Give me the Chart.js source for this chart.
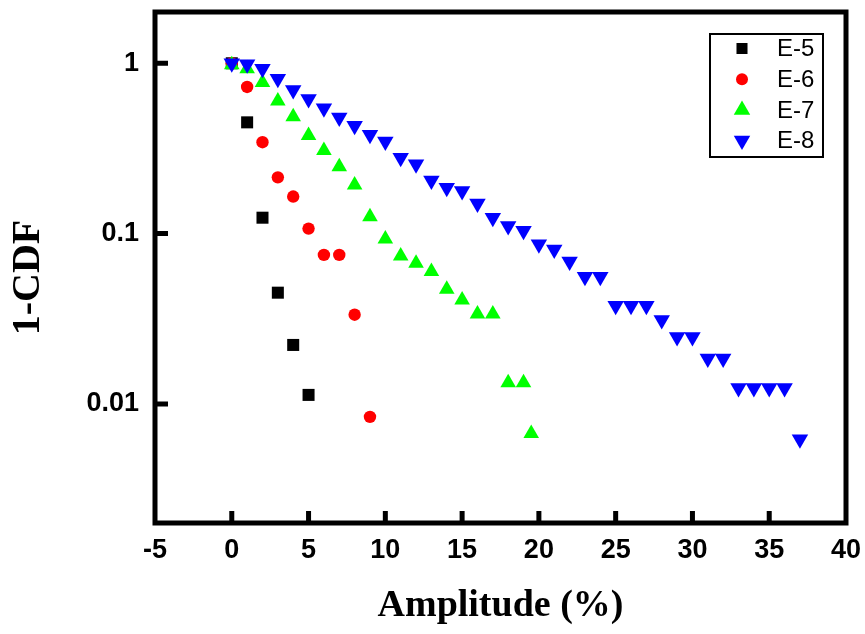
<!DOCTYPE html>
<html>
<head>
<meta charset="utf-8">
<script src="https://cdn.jsdelivr.net/npm/chart.js@4.4.1/dist/chart.umd.min.js"></script>
<style>
  html, body { margin: 0; padding: 0; background: #fff; }
  #wrap { width: 865px; height: 634px; position: relative; }
</style>
</head>
<body>
<div id="wrap"><canvas id="plotCanvas"></canvas></div>
<script>
// E-5
const x5 = [0, 1, 2, 3, 4, 5];
const y5 = [1, 0.45, 0.124, 0.045, 0.0222, 0.0113];
// E-6
const x6 = [0, 1, 2, 3, 4, 5, 6, 7, 8, 9];
const y6 = [1, 0.726, 0.344, 0.214, 0.165, 0.107, 0.075, 0.075, 0.0334, 0.0084];
// E-7
const x7 = [0, 1, 2, 3, 4, 5, 6, 7, 8, 9, 10, 11, 12, 13, 14, 15, 16, 17, 18, 19, 19.5];
const y7 = [0.98, 0.93, 0.77, 0.6, 0.485, 0.377, 0.308, 0.247, 0.193, 0.1255, 0.093,
  0.074, 0.067, 0.06, 0.0472, 0.0408, 0.0337, 0.0337, 0.0133, 0.0133, 0.0067];
// E-8
const x8 = [0, 1, 2, 3, 4, 5, 6, 7, 8, 9, 10, 11, 12, 13, 14, 15, 16, 17, 18, 19,
  20, 21, 22, 23, 24, 25, 26, 27, 28, 29, 30, 31, 32, 33, 34, 35, 36, 37];
const y8 = [1.0, 0.988, 0.93, 0.81, 0.697, 0.617, 0.545, 0.481, 0.43, 0.38, 0.347,
  0.279, 0.255, 0.205, 0.186, 0.178, 0.15, 0.124, 0.111, 0.104, 0.0866, 0.0806,
  0.0685, 0.0559, 0.0559, 0.0377, 0.0377, 0.0377, 0.0311, 0.0247, 0.0247, 0.0185,
  0.0185, 0.0124, 0.0124, 0.0124, 0.0124, 0.0062];

const seriesNames = ["E-5", "E-6", "E-7", "E-8"];
const yTicks = [0.01, 0.1, 1];

const sans = "'Liberation Sans', Arial, sans-serif";
const serif = "'Liberation Serif', 'Times New Roman', serif";

function pts(xs, ys) {
  return xs.map((x, i) => ({ x: x, y: ys[i] }));
}

const datasets = [
  { label: seriesNames[0], data: pts(x5, y5), backgroundColor: "#000000",
    pointStyle: "rect", pointRadius: 8.5, order: 4 },
  { label: seriesNames[1], data: pts(x6, y6), backgroundColor: "#ff0000",
    pointStyle: "circle", pointRadius: 6.2, order: 3 },
  { label: seriesNames[2], data: pts(x7, y7), backgroundColor: "#00ff00",
    pointStyle: "triangle", pointRadius: 9, order: 2 },
  { label: seriesNames[3], data: pts(x8, y8), backgroundColor: "#0000ff",
    pointStyle: "triangle", pointRotation: 180, pointRadius: 9.5, order: 1 },
];
datasets.forEach(d => { d.pointBorderWidth = 0; d.borderWidth = 0; d.showLine = false; });

// frame, inward ticks and legend box
const framePlugin = {
  id: "frame",
  afterDraw(chart) {
    const ctx = chart.ctx;
    const a = chart.chartArea;
    const xs = chart.scales.x, ys = chart.scales.y;
    ctx.save();
    ctx.strokeStyle = "#000";
    ctx.lineWidth = 5;
    ctx.lineCap = "butt";
    ctx.beginPath();
    xs.ticks.forEach(t => {
      if (t.value <= xs.min || t.value >= xs.max) return;
      const px = xs.getPixelForValue(t.value);
      ctx.moveTo(px, a.bottom);
      ctx.lineTo(px, a.bottom - 12);
    });
    ys.ticks.forEach(t => {
      const py = ys.getPixelForValue(t.value);
      ctx.moveTo(a.left, py);
      ctx.lineTo(a.left + 13, py);
    });
    ctx.stroke();
    ctx.strokeRect(a.left, a.top, a.right - a.left, a.bottom - a.top);

    // legend
    const lx = 710, ly = 34, lw = 113, lh = 123;
    ctx.fillStyle = "#fff";
    ctx.fillRect(lx, ly, lw, lh);
    ctx.lineWidth = 2;
    ctx.strokeRect(lx, ly, lw, lh);
    const sizes = [7.8, 6, 9.5, 9.5];
    chart.data.datasets.forEach((d, i) => {
      const cy = 48.5 + i * 30.7;
      ctx.fillStyle = d.backgroundColor;
      Chart.helpers.drawPoint(ctx, {
        pointStyle: d.pointStyle, radius: sizes[i],
        rotation: d.pointRotation || 0, borderWidth: 0
      }, 742, cy);
      ctx.fillStyle = "#000";
      ctx.font = "24px " + sans;
      ctx.textBaseline = "middle";
      ctx.textAlign = "left";
      ctx.fillText(d.label, 777, cy + 1);
    });
    ctx.restore();
  }
};

function noPad(s) {
  s.paddingTop = 0; s.paddingBottom = 0; s.paddingLeft = 0; s.paddingRight = 0;
}

const ctx = document.getElementById("plotCanvas").getContext("2d");
const chart = new Chart(ctx, {
  type: "scatter",
  data: { datasets: datasets },
  options: {
    responsive: true,
    maintainAspectRatio: false,
    animation: false,
    layout: { padding: { top: 12, right: 19, left: 0, bottom: 0 } },
    plugins: { legend: { display: false }, tooltip: { enabled: false } },
    scales: {
      x: {
        type: "linear",
        min: -5,
        max: 40,
        grid: { display: false, drawTicks: false },
        border: { display: false },
        ticks: {
          stepSize: 5,
          padding: 11,
          color: "#000",
          font: { family: sans, size: 27, weight: "bold" },
          maxRotation: 0,
        },
        title: {
          display: true,
          text: "Amplitude (%)",
          color: "#000",
          font: { family: serif, size: 38, weight: "bold" },
          padding: { top: 0, bottom: 5 },
        },
        afterFit(s) { s.height = 111; noPad(s); },
      },
      y: {
        type: "logarithmic",
        min: 0.002,
        max: 2,
        grid: { display: false, drawTicks: false },
        border: { display: false },
        afterBuildTicks(s) { s.ticks = yTicks.map(v => ({ value: v })); },
        ticks: {
          padding: 16,
          color: "#000",
          font: { family: sans, size: 27, weight: "bold" },
          callback: v => String(v),
        },
        title: {
          display: true,
          text: "1-CDF  ",
          color: "#000",
          font: { family: serif, size: 40, weight: "bold" },
          padding: { top: 5, bottom: 0 },
        },
        afterFit(s) { s.width = 155; noPad(s); },
      },
    },
  },
  plugins: [framePlugin],
});
</script>
</body>
</html>
